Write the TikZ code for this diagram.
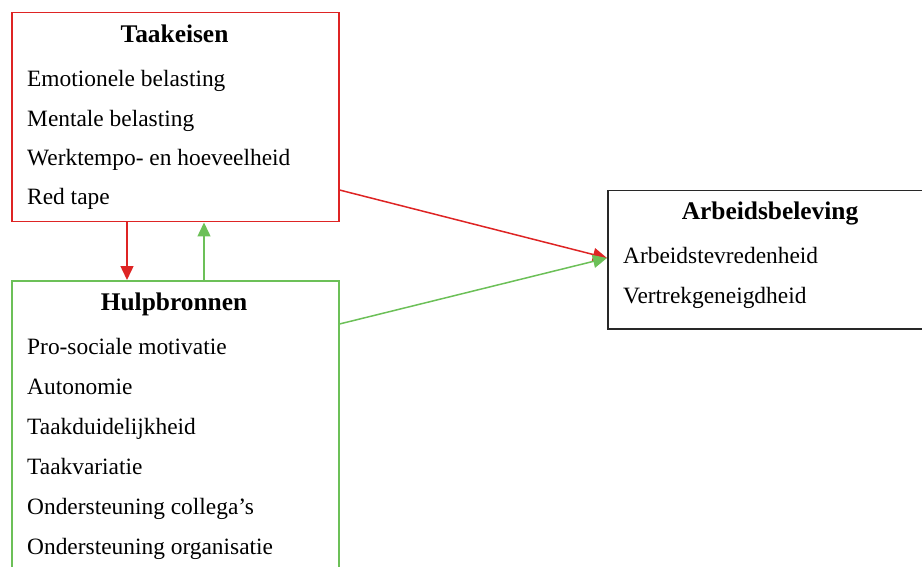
\documentclass[tikz,border=0pt]{standalone}
\usepackage{fontspec}
\setmainfont{Liberation Serif}
\usetikzlibrary{arrows.meta}
\definecolor{boxred}{RGB}{222,36,36}
\definecolor{boxgreen}{RGB}{108,192,88}
\definecolor{boxblack}{RGB}{40,40,40}
\begin{document}
\begin{tikzpicture}[x=1pt,y=-1pt,
  box/.style={draw, line width=1.5pt, minimum width=#1, anchor=north west, inner sep=0pt},
  item/.style={anchor=base west, inner sep=0pt, font=\fontsize{23.4}{27}\selectfont},
  title/.style={anchor=base, inner sep=0pt, font=\fontsize{25.4}{29}\selectfont\bfseries},
  arr/.style={line width=1.5pt, -{Triangle[length=14pt,width=13pt]}}]
\useasboundingbox (0,0) rectangle (922,567);
\clip (0,0) rectangle (922,567);
% boxes
\node[box=327pt, draw=boxred, minimum height=209pt] (tk) at (11,12) {};
\node[box=327pt, draw=boxgreen, minimum height=320pt] (hb) at (11,280) {};
\node[box=330pt, draw=boxblack, minimum height=138pt] (ab) at (607,190) {};
% Taakeisen
\node[title] (tkt) at (174.5,43) {Taakeisen};
\node[item] (tk1) at (27,87) {Emotionele belasting};
\node[item] (tk2) at (27,127) {Mentale belasting};
\node[item] (tk3) at (27,166) {Werktempo- en hoeveelheid};
\node[item] (tk4) at (27,205) {Red tape};
% Hulpbronnen
\node[title] (hbt) at (174,310) {Hulpbronnen};
\node[item] (hb1) at (27,354) {Pro-sociale motivatie};
\node[item] (hb2) at (27,394) {Autonomie};
\node[item] (hb3) at (27,434) {Taakduidelijkheid};
\node[item] (hb4) at (27,474) {Taakvariatie};
\node[item] (hb5) at (27,514) {Ondersteuning collega’s};
\node[item] (hb6) at (27,554) {Ondersteuning organisatie};
% Arbeidsbeleving
\node[title] (abt) at (770,220) {Arbeidsbeleving};
\node[item] (ab1) at (623,263) {Arbeidstevredenheid};
\node[item] (ab2) at (623,303) {Vertrekgeneigdheid};
% connector points
\coordinate (tkd) at (tk.south -| 127,0);
\coordinate (hbd) at (hb.north -| 127,0);
\coordinate (hbu) at (hb.north -| 204,0);
\coordinate (tku) at (tk.south -| 204,0);
\coordinate (tkr) at (tk.east |- 0,190);
\coordinate (hbr) at (hb.east |- 0,324);
\coordinate (abl) at (ab.west |- 0,258);
% connectors
\draw[arr, boxred] (tkd) -- (hbd);
\draw[arr, boxgreen] (hbu) -- (tku);
\draw[arr, boxred] (tkr) -- (abl);
\draw[arr, boxgreen] (hbr) -- (abl);
\end{tikzpicture}
\end{document}
